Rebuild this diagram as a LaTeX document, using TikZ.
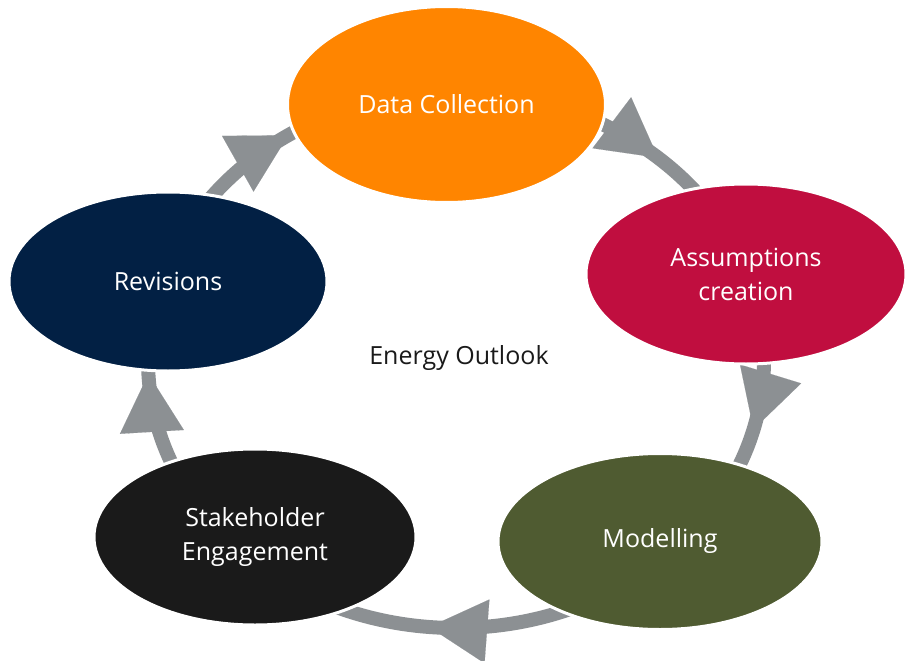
\documentclass[tikz,border=0pt]{standalone}
\usepackage{fontspec}
\setmainfont{Open Sans}
\usetikzlibrary{shapes.geometric,arrows.meta}

\definecolor{ringgray}{RGB}{140,144,147}
\definecolor{dataorange}{RGB}{255,133,0}
\definecolor{assumred}{RGB}{192,14,63}
\definecolor{revnavy}{RGB}{2,32,68}
\definecolor{modelgreen}{RGB}{79,91,49}
\definecolor{stakeblack}{RGB}{26,26,26}

\begin{document}
\begin{tikzpicture}[x=1pt,y=1pt,
                    phase/.style={ellipse, draw=white, line width=3pt, text=white, align=center,
                                  inner sep=0pt, font=\fontsize{25}{34}\selectfont},
                    head/.style={-{Triangle[length=58pt,width=64pt]}, ringgray, line width=0.1pt}]
  \useasboundingbox (0,0) rectangle (905,-661);

  %Ring%
  \coordinate (c) at (456,-360);
  \draw[ringgray, line width=14pt] (c) ellipse [x radius=308, y radius=268];

  %Arrow heads%
  \draw[head] (c) ++(136:308 and 268) arc[start angle=136, end angle=123, x radius=308, y radius=268];
  \draw[head] (c) ++(61:308 and 268) arc[start angle=61, end angle=49, x radius=308, y radius=268];
  \draw[head] (c) ++(-3:308 and 268) arc[start angle=-3, end angle=-15, x radius=308, y radius=268];
  \draw[head] (c) ++(-85:308 and 268) arc[start angle=-85, end angle=-95, x radius=308, y radius=268];
  \draw[head] (c) ++(196:308 and 268) arc[start angle=196, end angle=183, x radius=308, y radius=268];

  %Phases%
  \node[phase, fill=dataorange, minimum width=318, minimum height=196] (data) at (446.5,-104.5) {Data Collection};
  \node[phase, fill=assumred, minimum width=320, minimum height=180] (assum) at (746,-274) {Assumptions\\creation};
  \node[phase, fill=modelgreen, minimum width=324, minimum height=176] (model) at (660,-541.5) {Modelling};
  \node[phase, fill=stakeblack, minimum width=322, minimum height=176] (stake) at (255,-537) {Stakeholder\\Engagement};
  \node[phase, fill=revnavy, minimum width=318, minimum height=179] (rev) at (168,-281.5) {Revisions};

  \node[font=\fontsize{25}{34}\selectfont, text=stakeblack] (outlook) at (459,-358) {Energy Outlook};
\end{tikzpicture}
\end{document}
